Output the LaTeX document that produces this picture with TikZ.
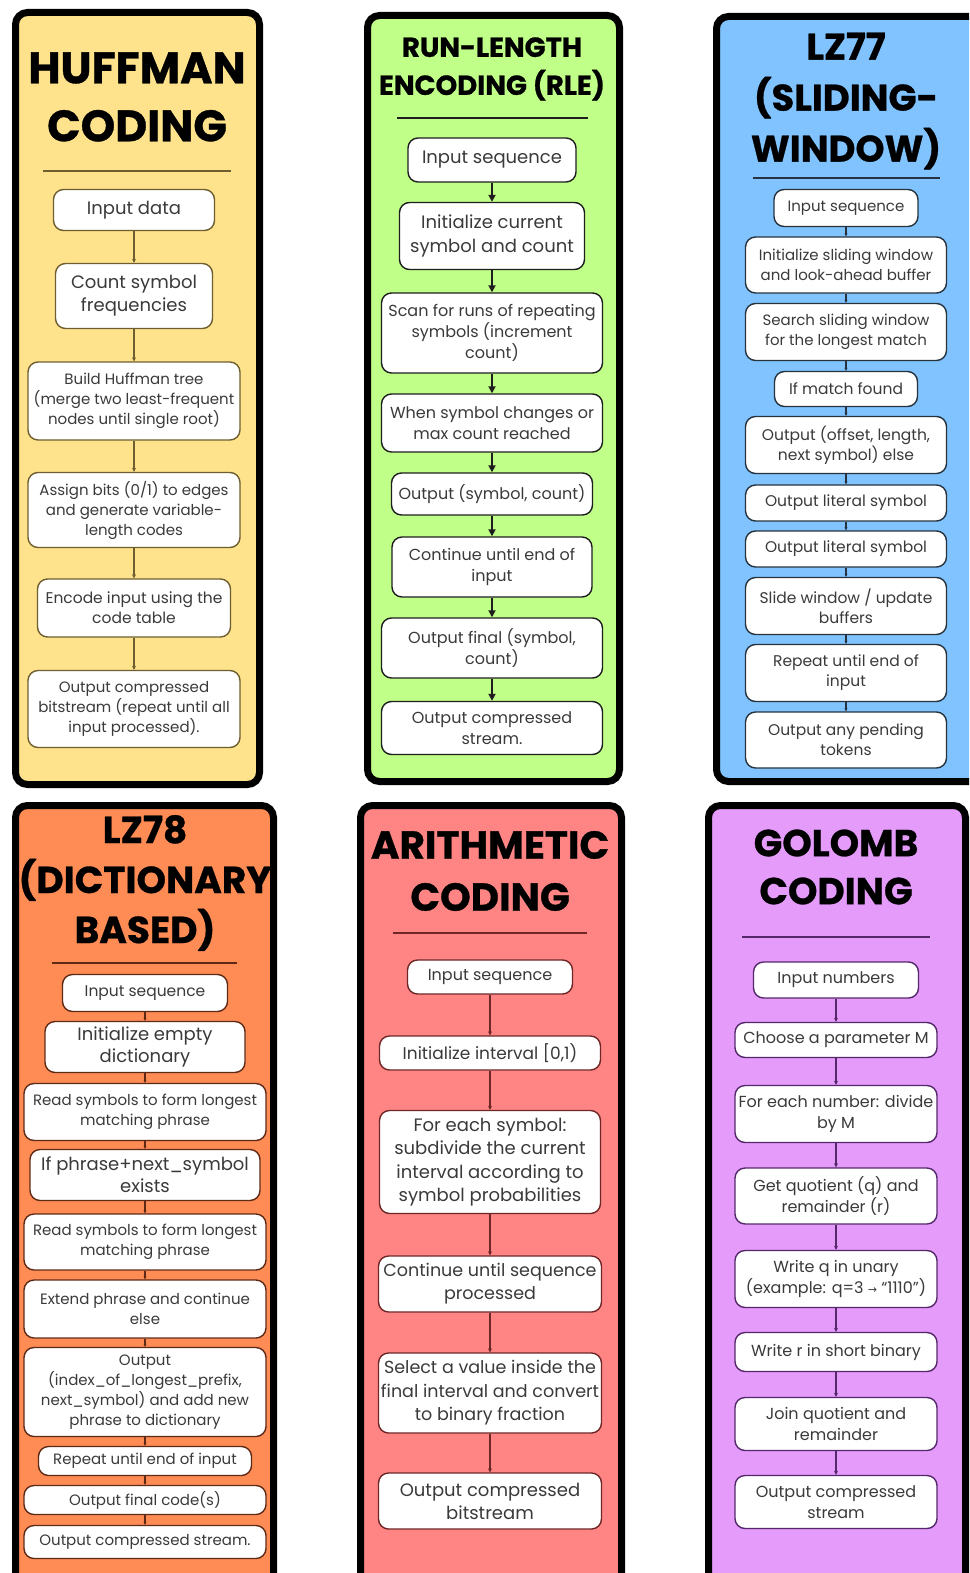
\documentclass[tikz,border=0pt]{standalone}
\usepackage{fontspec}
\setmainfont{Poppins}
\newfontfamily\headfont[BoldFeatures={FakeBold=0.8}]{Poppins}
\newfontfamily\symfont{DejaVu Sans}
\usetikzlibrary{arrows.meta}

\definecolor{hufffill}{HTML}{FFE38C}
\definecolor{rlefill}{HTML}{C0FF88}
\definecolor{lzsfill}{HTML}{80C3FF}
\definecolor{lzdfill}{HTML}{FF8C55}
\definecolor{arifill}{HTML}{FF8585}
\definecolor{golfill}{HTML}{E49BFA}
\definecolor{huffline}{HTML}{6E5E30}
\definecolor{rleline}{HTML}{1E1E1E}
\definecolor{lzsline}{HTML}{26323E}
\definecolor{lzdline}{HTML}{5E2A16}
\definecolor{ariline}{HTML}{6E2626}
\definecolor{golline}{HTML}{54286A}
\definecolor{boxtext}{HTML}{3A3A3A}

\tikzset{
  panel/.style={draw=black, line width=7pt, rounded corners=12pt, fill=#1},
  box/.style={draw=#1, fill=white, line width=1.4pt, rounded corners=10pt,
    inner sep=0pt, align=center, text=boxtext},
  fs/.style 2 args={font=\fontsize{#1}{#2}\selectfont},
  ts/.style 2 args={font=\headfont\fontsize{#1}{#2}\selectfont\bfseries, align=center,
    inner sep=0pt, text=black},
  rule/.style={draw=#1, line width=1.3pt},
  link/.style={draw=#1, line width=1.1pt, -{Stealth[length=4pt,width=4pt]}},
  boldlink/.style={draw=#1, line width=2pt, -{Triangle[length=7pt,width=7pt]}},
}

\begin{document}
\begin{tikzpicture}[x=1pt,y=-1pt]
\useasboundingbox (0,0) rectangle (969,1573);
\clip (0,0) rectangle (969,1573);
\fill[white] (0,0) rectangle (969,1573);

% ---------------- Huffman coding ----------------
\draw[panel=hufffill] (15.5,12.5) rectangle (259.5,784.5);
\node[ts={44}{58}] (hufT) at (137,97) {HUFFMAN\\CODING};
\draw[rule=huffline] (43,171) -- (231,171);
\node[box=huffline, minimum width=161, minimum height=41, fs={18}{23}] (h1) at (134,210) {Input data};
\node[box=huffline, minimum width=157, minimum height=65, fs={18}{23}] (h2) at (134,296) {Count symbol\\frequencies};
\node[box=huffline, minimum width=212, minimum height=78, fs={15}{20}] (h3) at (134,401) {Build Huffman tree\\(merge two least-frequent\\nodes until single root)};
\node[box=huffline, minimum width=212, minimum height=75, fs={15}{20}] (h4) at (134,510) {Assign bits (0/1) to edges\\and generate variable-\\length codes};
\node[box=huffline, minimum width=193, minimum height=58, fs={15.5}{20}] (h5) at (134,608) {Encode input using the\\code table};
\node[box=huffline, minimum width=212, minimum height=77, fs={15}{20}] (h6) at (134,709) {Output compressed\\bitstream (repeat until all\\input processed).};
\foreach \a/\b in {h1/h2,h2/h3,h3/h4,h4/h5,h5/h6}
  \draw[link=huffline] (\a) -- (\b);

% ---------------- Run-length encoding ----------------
\draw[panel=rlefill] (367.5,15.5) rectangle (619.5,781.5);
\node[ts={27.5}{38}] (rleT) at (492,69) {RUN-LENGTH\\ENCODING (RLE)};
\draw[rule=rleline] (397,118) -- (588,118);
\node[box=rleline, minimum width=168, minimum height=44, fs={18}{24}] (r1) at (492,160) {Input sequence};
\node[box=rleline, minimum width=185, minimum height=67, fs={18}{24}] (r2) at (492,236) {Initialize current\\symbol and count};
\node[box=rleline, minimum width=221, minimum height=80, fs={16}{21}] (r3) at (492,333) {Scan for runs of repeating\\symbols (increment\\count)};
\node[box=rleline, minimum width=221, minimum height=58, fs={16}{21}] (r4) at (492,423) {When symbol changes or\\max count reached};
\node[box=rleline, minimum width=201, minimum height=42, fs={16}{21}] (r5) at (492,494) {Output (symbol, count)};
\node[box=rleline, minimum width=200, minimum height=60, fs={16}{21}] (r6) at (492,567) {Continue until end of\\input};
\node[box=rleline, minimum width=221, minimum height=60, fs={16}{21}] (r7) at (492,648) {Output final (symbol,\\count)};
\node[box=rleline, minimum width=221, minimum height=53, fs={16}{21}] (r8) at (492,728) {Output compressed\\stream.};
\foreach \a/\b in {r1/r2,r2/r3,r3/r4,r4/r5,r5/r6,r6/r7,r7/r8}
  \draw[boldlink=rleline] (\a) -- (\b);

% ---------------- LZ77 ----------------
\draw[panel=lzsfill] (716.5,16.5) rectangle (990,781.5);
\node[ts={37}{51}] (lzsT) at (846,101) {LZ77\\(SLIDING-\\WINDOW)};
\draw[rule=lzsline] (753,178) -- (940,178);
\node[box=lzsline, minimum width=144, minimum height=37, fs={15}{20}] (l1) at (846,208) {Input sequence};
\node[box=lzsline, minimum width=201, minimum height=56, fs={15}{20}] (l2) at (846,265) {Initialize sliding window\\and look-ahead buffer};
\node[box=lzsline, minimum width=201, minimum height=57, fs={15}{20}] (l3) at (846,332) {Search sliding window\\for the longest match};
\node[box=lzsline, minimum width=143, minimum height=35, fs={15.5}{20}] (l4) at (846,389) {If match found};
\node[box=lzsline, minimum width=201, minimum height=57, fs={15.5}{20}] (l5) at (846,445) {Output (offset, length,\\next symbol) else};
\node[box=lzsline, minimum width=201, minimum height=36, fs={15.5}{20}] (l6) at (846,503) {Output literal symbol};
\node[box=lzsline, minimum width=201, minimum height=36, fs={15.5}{20}] (l7) at (846,549) {Output literal symbol};
\node[box=lzsline, minimum width=201, minimum height=57, fs={15.5}{20}] (l8) at (846,606) {Slide window / update\\buffers};
\node[box=lzsline, minimum width=201, minimum height=57, fs={15.5}{20}] (l9) at (846,673) {Repeat until end of\\input};
\node[box=lzsline, minimum width=201, minimum height=56, fs={15.5}{20}] (l10) at (846,740) {Output any pending\\tokens};
\foreach \a/\b in {l1/l2,l2/l3,l3/l4,l4/l5,l5/l6,l6/l7,l7/l8,l8/l9,l9/l10}
  \draw[link=lzsline, -{Stealth[length=3pt,width=3pt]}] (\a) -- (\b);

% ---------------- LZ78 ----------------
\draw[panel=lzdfill] (15.5,805.5) rectangle (273.5,1610);
\node[ts={37.5}{50}] (lzdT) at (145,883) {LZ78\\(DICTIONARY\\BASED)};
\draw[rule=lzdline] (52,963) -- (237,963);
\node[box=lzdline, minimum width=165, minimum height=37, fs={15.5}{20}] (z1) at (145,993) {Input sequence};
\node[box=lzdline, minimum width=200, minimum height=51, fs={18}{22}] (z2) at (145,1047) {Initialize empty\\dictionary};
\node[box=lzdline, minimum width=242, minimum height=57, fs={15}{20}] (z3) at (145,1112) {Read symbols to form longest\\matching phrase};
\node[box=lzdline, minimum width=230, minimum height=51, fs={18}{22}] (z4) at (145,1175) {If phrase+next\_symbol\\exists};
\node[box=lzdline, minimum width=242, minimum height=56, fs={15}{20}] (z5) at (145,1242) {Read symbols to form longest\\matching phrase};
\node[box=lzdline, minimum width=242, minimum height=58, fs={15}{20}] (z6) at (145,1309) {Extend phrase and continue\\else};
\node[box=lzdline, minimum width=242, minimum height=89, fs={15}{20}] (z7) at (145,1392) {Output\\(index\_of\_longest\_prefix,\\next\_symbol) and add new\\phrase to dictionary};
\node[box=lzdline, minimum width=213, minimum height=29, fs={15}{20}] (z8) at (145,1461) {Repeat until end of input};
\node[box=lzdline, minimum width=242, minimum height=29, fs={15}{20}] (z9) at (145,1500) {Output final code(s)};
\node[box=lzdline, minimum width=242, minimum height=33, fs={15}{20}] (z10) at (145,1542) {Output compressed stream.};
\foreach \a/\b in {z1/z2,z2/z3,z3/z4,z4/z5,z5/z6,z6/z7,z7/z8,z8/z9,z9/z10}
  \draw[link=lzdline, -{Stealth[length=3pt,width=3pt]}] (\a) -- (\b);

% ---------------- Arithmetic coding ----------------
\draw[panel=arifill] (360.5,805.5) rectangle (621.5,1610);
\node[ts={39}{52}] (ariT) at (490,871) {ARITHMETIC\\CODING};
\draw[rule=ariline] (393,933) -- (587,933);
\node[box=ariline, minimum width=165, minimum height=34, fs={16}{21}] (a1) at (490,977) {Input sequence};
\node[box=ariline, minimum width=221, minimum height=34, fs={17}{22}] (a2) at (490,1053) {Initialize interval [0,1)};
\node[box=ariline, minimum width=221, minimum height=103, fs={18}{23.5}] (a3) at (490,1162) {For each symbol:\\subdivide the current\\interval according to\\symbol probabilities};
\node[box=ariline, minimum width=223, minimum height=56, fs={17.5}{23}] (a4) at (490,1284) {Continue until sequence\\processed};
\node[box=ariline, minimum width=223, minimum height=80, fs={17.5}{23.5}] (a5) at (490,1393) {Select a value inside the\\final interval and convert\\to binary fraction};
\node[box=ariline, minimum width=223, minimum height=56, fs={18}{23}] (a6) at (490,1501) {Output compressed\\bitstream};
\foreach \a/\b in {a1/a2,a2/a3,a3/a4,a4/a5,a5/a6}
  \draw[link=ariline] (\a) -- (\b);

% ---------------- Golomb coding ----------------
\draw[panel=golfill] (708.5,805.5) rectangle (965.5,1610);
\node[ts={37.5}{48}] (golT) at (836,867) {GOLOMB\\CODING};
\draw[rule=golline] (742,937) -- (930,937);
\node[box=golline, minimum width=165, minimum height=36, fs={16}{21}] (g1) at (836,980) {Input numbers};
\node[box=golline, minimum width=202, minimum height=35, fs={16}{21}] (g2) at (836,1040) {Choose a parameter M};
\node[box=golline, minimum width=202, minimum height=57, fs={16}{21}] (g3) at (836,1114) {For each number: divide\\by M};
\node[box=golline, minimum width=202, minimum height=56, fs={16}{21}] (g4) at (836,1196) {Get quotient (q) and\\remainder (r)};
\node[box=golline, minimum width=202, minimum height=57, fs={16}{21}] (g5) at (836,1279) {Write q in unary\\(example: q=3 {\symfont\fontsize{11}{12}\selectfont →} “1110”)};
\node[box=golline, minimum width=202, minimum height=39, fs={16}{21}] (g6) at (836,1352) {Write r in short binary};
\node[box=golline, minimum width=202, minimum height=53, fs={16}{21}] (g7) at (836,1424) {Join quotient and\\remainder};
\node[box=golline, minimum width=202, minimum height=53, fs={16}{21}] (g8) at (836,1502) {Output compressed\\stream};
\foreach \a/\b in {g1/g2,g2/g3,g3/g4,g4/g5,g5/g6,g6/g7,g7/g8}
  \draw[link=golline] (\a) -- (\b);
\end{tikzpicture}
\end{document}
